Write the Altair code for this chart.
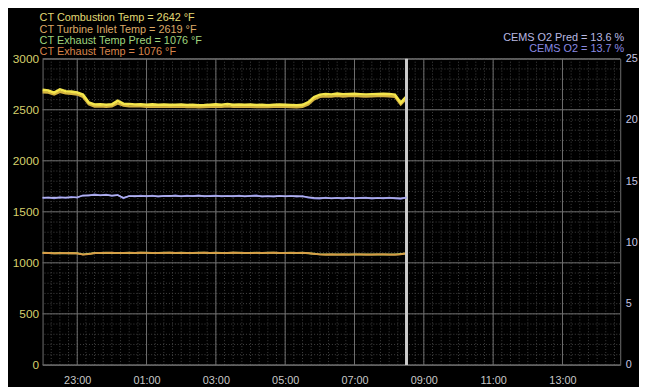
import altair as alt
import pandas as pd

# ---------------- data ----------------
times = pd.date_range("2024-01-01 22:00", periods=64, freq="10min")

combustion = [2695, 2688, 2668, 2700, 2682, 2678, 2670, 2648,
              2572, 2552, 2555, 2550, 2553, 2588, 2560, 2556,
              2552, 2554, 2550, 2553, 2549, 2551, 2548, 2550,
              2552, 2547, 2549, 2544, 2546, 2550, 2553, 2550,
              2556, 2548, 2552, 2549, 2551, 2547, 2550, 2545,
              2549, 2551, 2548, 2546, 2544, 2548, 2575, 2625,
              2648, 2655, 2650, 2658, 2652, 2655, 2657, 2653,
              2650, 2652, 2655, 2656, 2654, 2648, 2570, 2632]

turbine_inlet = [2672, 2668, 2650, 2676, 2662, 2656, 2650, 2625,
                 2555, 2532, 2534, 2530, 2533, 2562, 2540, 2535,
                 2533, 2534, 2530, 2532, 2530, 2531, 2528, 2530,
                 2532, 2527, 2529, 2525, 2527, 2530, 2532, 2530,
                 2534, 2528, 2531, 2529, 2530, 2527, 2530, 2526,
                 2529, 2530, 2528, 2526, 2525, 2528, 2552, 2602,
                 2626, 2633, 2629, 2636, 2630, 2634, 2636, 2632,
                 2629, 2631, 2634, 2635, 2633, 2627, 2552, 2612]

exhaust_pred = [1098, 1096, 1095, 1097, 1094, 1096, 1093, 1083,
                1088, 1097, 1097, 1098, 1097, 1097, 1097, 1098,
                1097, 1098, 1098, 1097, 1097, 1098, 1098, 1097,
                1098, 1097, 1097, 1098, 1098, 1097, 1098, 1097,
                1097, 1098, 1098, 1097, 1097, 1098, 1097, 1098,
                1098, 1097, 1097, 1098, 1097, 1098, 1095, 1090,
                1083, 1082, 1082, 1082, 1081, 1082, 1082, 1081,
                1082, 1082, 1081, 1082, 1082, 1081, 1086, 1092]

exhaust = [1095, 1097, 1093, 1096, 1095, 1094, 1092, 1080,
           1085, 1096, 1098, 1097, 1099, 1096, 1098, 1097,
           1098, 1099, 1097, 1098, 1096, 1097, 1099, 1098,
           1097, 1096, 1098, 1097, 1099, 1098, 1097, 1096,
           1098, 1099, 1097, 1098, 1096, 1097, 1098, 1097,
           1099, 1098, 1096, 1097, 1098, 1097, 1096, 1088,
           1082, 1080, 1083, 1081, 1082, 1080, 1083, 1082,
           1081, 1080, 1082, 1083, 1081, 1080, 1084, 1095]

o2_pred = [13.66, 13.64, 13.67, 13.65, 13.68, 13.66, 13.70, 13.82,
           13.86, 13.88, 13.85, 13.87, 13.84, 13.86, 13.66, 13.78,
           13.80, 13.78, 13.79, 13.80, 13.78, 13.79, 13.81, 13.80,
           13.78, 13.79, 13.80, 13.81, 13.79, 13.78, 13.80, 13.79,
           13.78, 13.80, 13.79, 13.78, 13.79, 13.80, 13.78, 13.77,
           13.78, 13.79, 13.77, 13.78, 13.79, 13.76, 13.70, 13.64,
           13.62, 13.63, 13.61, 13.62, 13.63, 13.62, 13.61, 13.62,
           13.63, 13.62, 13.61, 13.62, 13.63, 13.62, 13.60, 13.65]

o2 = [13.62, 13.68, 13.60, 13.70, 13.64, 13.72, 13.66, 13.85,
      13.82, 13.92, 13.84, 13.90, 13.80, 13.88, 13.60, 13.80,
      13.76, 13.82, 13.77, 13.83, 13.75, 13.81, 13.78, 13.84,
      13.76, 13.82, 13.78, 13.85, 13.77, 13.80, 13.83, 13.76,
      13.81, 13.77, 13.83, 13.76, 13.80, 13.84, 13.75, 13.79,
      13.74, 13.81, 13.76, 13.80, 13.75, 13.78, 13.66, 13.60,
      13.58, 13.66, 13.60, 13.64, 13.57, 13.65, 13.59, 13.63,
      13.66, 13.58, 13.63, 13.60, 13.65, 13.59, 13.55, 13.68]

cursor_time = ["2024-01-02 08:30"]

left_names = ["CT Combustion Temp", "CT Turbine Inlet Temp",
              "CT Exhaust Temp Pred", "CT Exhaust Temp"]
left_readouts = [2642, 2619, 1076, 1076]
right_names = ["CEMS O2 Pred", "CEMS O2"]
right_readouts = [13.6, 13.7]

left_major = [0, 500, 1000, 1500, 2000, 2500, 3000]
left_minor = list(range(0, 3001, 100))
right_ticks = [0, 5, 10, 15, 20, 25]
x_major = ["2024-01-01 23:00", "2024-01-02 01:00", "2024-01-02 03:00", "2024-01-02 05:00",
           "2024-01-02 07:00", "2024-01-02 09:00", "2024-01-02 11:00", "2024-01-02 13:00"]
x_minor = pd.date_range("2024-01-01 22:15", "2024-01-02 14:30", freq="15min")

# ---------------- styling ----------------
FONT = "Liberation Sans"
MAJOR = "#707070"
MINOR = "#424242"
left_text_colors = ["#e2da74", "#dca866", "#9fd47e", "#d9854c"]
right_text_colors = ["#b9b9e2", "#8a8ae2"]


def dt(s):
    t = pd.Timestamp(s)
    return alt.DateTime(year=t.year, month=t.month, date=t.day, hours=t.hour, minutes=t.minute)


x_enc = alt.X(
    "time:T",
    title=None,
    scale=alt.Scale(domain=[dt("2024-01-01 22:00"), dt("2024-01-02 14:40")]),
    axis=alt.Axis(
        values=[dt(s) for s in x_major],
        format="%H:%M",
        labelOverlap=False,
        labelFlush=False,
        labelColor="#c8c8c8",
        labelFont=FONT,
        labelFontSize=11,
        labelPadding=10,
        ticks=False,
        domain=False,
        grid=False,
    ),
)

y_left = alt.Y(
    "value:Q",
    title=None,
    scale=alt.Scale(domain=[0, 3000], nice=False),
    axis=alt.Axis(
        orient="left",
        values=left_major,
        format="d",
        labelOverlap=False,
        labelColor="#d6d06c",
        labelFont=FONT,
        labelFontSize=12,
        labelPadding=4,
        ticks=False,
        domain=False,
        grid=False,
    ),
)

y_right = alt.Y(
    "value:Q",
    title=None,
    scale=alt.Scale(domain=[0, 25], nice=False),
    axis=alt.Axis(
        orient="right",
        values=right_ticks,
        labelColor="#c6c6e4",
        labelFont=FONT,
        labelFontSize=11,
        labelPadding=5,
        labelOverlap=False,
        ticks=False,
        domain=False,
        grid=False,
    ),
)


def series_df(vals):
    return pd.DataFrame({"time": times, "value": vals})


# grid lines
grid_layers = [
    alt.Chart(pd.DataFrame({"value": left_minor})).mark_rule(
        color=MINOR, strokeWidth=1, strokeDash=[1, 2]).encode(y=y_left),
    alt.Chart(pd.DataFrame({"time": x_minor})).mark_rule(
        color=MINOR, strokeWidth=1, strokeDash=[1, 2]).encode(x=x_enc),
    alt.Chart(pd.DataFrame({"value": left_major})).mark_rule(
        color=MAJOR, strokeWidth=1).encode(y=y_left),
    alt.Chart(pd.DataFrame({"time": pd.to_datetime(x_major)})).mark_rule(
        color=MAJOR, strokeWidth=1).encode(x=x_enc),
]

# temperature lines (drawn bottom to top)
temp_layers = [
    alt.Chart(series_df(exhaust_pred)).mark_line(color="#b8d05c", strokeWidth=2).encode(x=x_enc, y=y_left),
    alt.Chart(series_df(exhaust)).mark_line(color="#d99a46", strokeWidth=1.8).encode(x=x_enc, y=y_left),
    alt.Chart(series_df(turbine_inlet)).mark_line(color="#d4b23e", strokeWidth=2.4).encode(x=x_enc, y=y_left),
    alt.Chart(series_df(combustion)).mark_line(color="#f4e64c", strokeWidth=2.6).encode(x=x_enc, y=y_left),
]
cursor = alt.Chart(pd.DataFrame({"time": pd.to_datetime(cursor_time)})).mark_rule(
    color="#cccccc", strokeWidth=3).encode(x=x_enc)
temps = alt.layer(*grid_layers, *temp_layers, cursor)

o2_layers = alt.layer(
    alt.Chart(series_df(o2)).mark_line(color="#7f7fd8", strokeWidth=1.8).encode(x=x_enc, y=y_right),
    alt.Chart(series_df(o2_pred)).mark_line(color="#b2b2ee", strokeWidth=1.5).encode(x=x_enc, y=y_right),
)

# readout texts
texts = []
left_y = [-41, -29.5, -18, -6.5]
for name, val, col, yy in zip(left_names, left_readouts, left_text_colors, left_y):
    texts.append(
        alt.Chart(pd.DataFrame({"t": [f"{name} = {val} °F"]})).mark_text(
            align="left", baseline="middle", font=FONT, fontSize=11, color=col
        ).encode(x=alt.value(-3), y=alt.value(yy), text="t:N")
    )
right_y = [-21, -9.5]
for name, val, col, yy in zip(right_names, right_readouts, right_text_colors, right_y):
    texts.append(
        alt.Chart(pd.DataFrame({"t": [f"{name} = {val} %"]})).mark_text(
            align="right", baseline="middle", font=FONT, fontSize=11, color=col
        ).encode(x=alt.value(589), y=alt.value(yy), text="t:N")
    )

chart = alt.layer(temps, o2_layers, *texts).resolve_scale(y="independent").properties(
    width=585,
    height=310,
    autosize=alt.AutoSizeParams(type="none"),
    padding={"left": 35, "top": 49, "right": 19, "bottom": 20},
).configure(background="#000000").configure_view(stroke="#707070", strokeWidth=1)

chart.save("out.html", embed_options={"renderer": "svg", "actions": False})
